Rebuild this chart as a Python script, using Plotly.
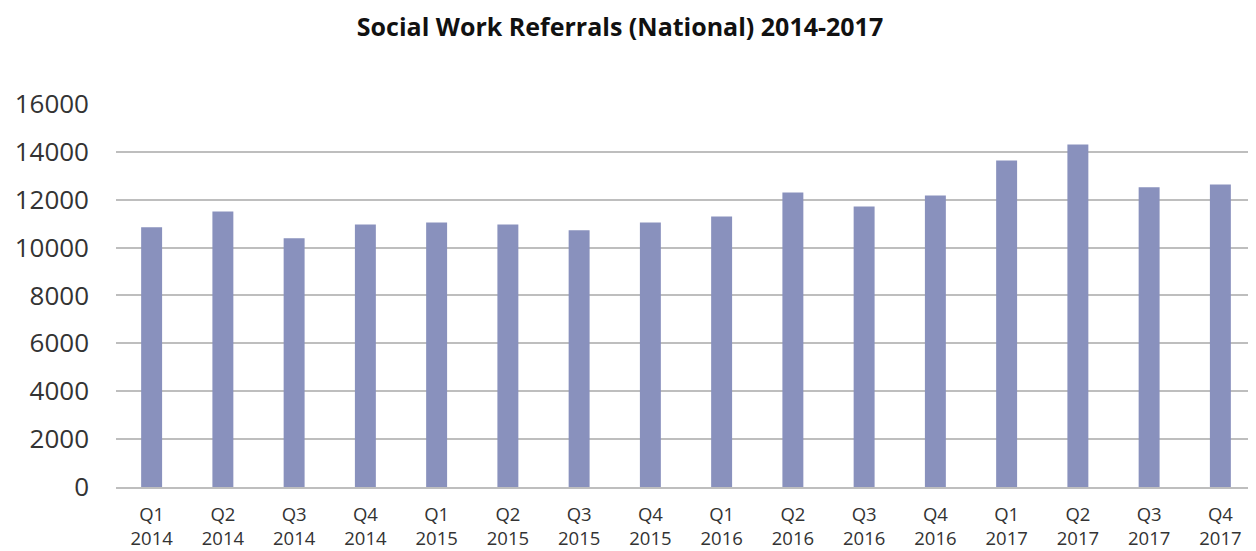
import plotly.graph_objects as go

quarters = ["Q1", "Q2", "Q3", "Q4"] * 4
years = ["2014"] * 4 + ["2015"] * 4 + ["2016"] * 4 + ["2017"] * 4
categories = [f"{q}<br>{y}" for q, y in zip(quarters, years)]
referrals = [10850, 11510, 10390, 10970, 11050, 10970, 10720, 11050,
             11300, 12300, 11720, 12180, 13640, 14310, 12520, 12640]
y_ticks = [0, 2000, 4000, 6000, 8000, 10000, 12000, 14000, 16000]

fig = go.Figure(go.Bar(
    x=categories, y=referrals,
    marker=dict(color="#8991BD", line=dict(width=0)),
))

font_family = "'Open Sans', 'Noto Sans', sans-serif"
fig.update_layout(
    width=1248, height=543,
    paper_bgcolor="white", plot_bgcolor="white",
    margin=dict(l=108, r=0, t=94.5, b=64, autoexpand=False),
    bargap=0.706,
    showlegend=False,
    title=dict(text="<b>Social Work Referrals (National) 2014-2017</b>",
               x=0.4904, xanchor="center", y=0.964, yanchor="middle",
               font=dict(family=font_family, size=25, color="#111111")),
    font=dict(family=font_family, color="#333333"),
)
fig.update_yaxes(
    range=[0, 16040], tickvals=y_ticks, tickformat="d", showgrid=True,
    gridcolor="#BEBEBE", gridwidth=1.5, zeroline=False, automargin=False,
    tickfont=dict(size=26, color="#333333"), ticklabelstandoff=26,
)
fig.update_xaxes(
    showline=True, linecolor="#BEBEBE", linewidth=1.5, automargin=False,
    tickfont=dict(size=18.5, color="#333333"), ticklabelstandoff=10,
    tickangle=0,
)

fig.write_html("out.html")
